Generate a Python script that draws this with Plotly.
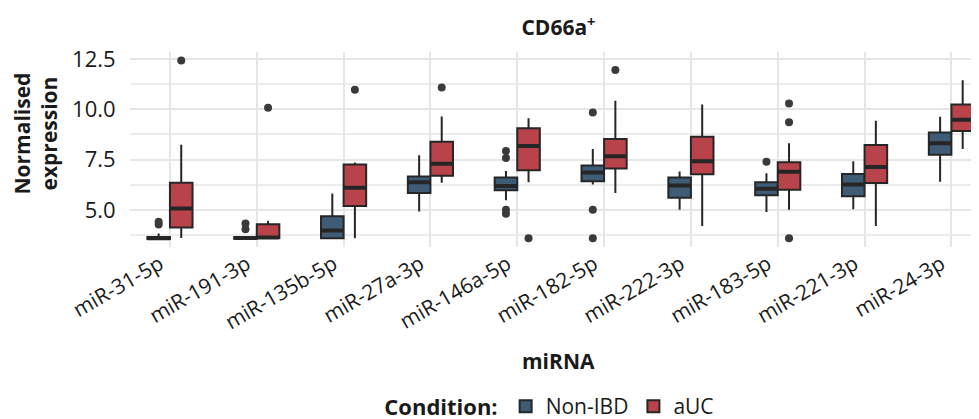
import plotly.graph_objects as go

categories = ["miR-31-5p", "miR-191-3p", "miR-135b-5p", "miR-27a-3p", "miR-146a-5p",
              "miR-182-5p", "miR-222-3p", "miR-183-5p", "miR-221-3p", "miR-24-3p"]

# Non-IBD
nonibd_low = [3.55, 3.55, 3.58, 4.92, 5.48, 6.26, 5.00, 4.89, 5.03, 6.40]
nonibd_q1 = [3.55, 3.56, 3.58, 5.84, 5.97, 6.42, 5.60, 5.73, 5.68, 7.74]
nonibd_med = [3.58, 3.60, 3.97, 6.37, 6.18, 6.85, 6.21, 6.05, 6.26, 8.31]
nonibd_q3 = [3.65, 3.65, 4.68, 6.66, 6.61, 7.21, 6.61, 6.37, 6.78, 8.84]
nonibd_up = [3.82, 3.68, 5.81, 7.71, 6.93, 8.03, 6.90, 6.82, 7.42, 9.63]
nonibd_out = [[4.41, 4.27], [4.32, 4.03], [], [], [7.93, 7.58, 5.00, 4.81],
              [9.84, 5.00, 3.58], [], [7.39], [], []]

# aUC
auc_low = [3.60, 3.58, 3.58, 6.34, 6.37, 5.84, 4.20, 5.00, 4.20, 8.03]
auc_q1 = [4.12, 3.60, 5.19, 6.69, 6.97, 7.06, 6.77, 6.00, 6.33, 8.92]
auc_med = [5.06, 3.62, 6.10, 7.29, 8.18, 7.66, 7.42, 6.89, 7.13, 9.48]
auc_q3 = [6.34, 4.28, 7.26, 8.39, 9.06, 8.52, 8.63, 7.37, 8.23, 10.24]
auc_up = [8.24, 4.45, 7.35, 9.64, 9.55, 10.43, 10.24, 8.31, 9.43, 11.45]
auc_out = [[12.43], [10.08], [10.97], [11.08], [3.58], [11.96], [],
           [10.29, 9.35, 3.58], [], []]

y_ticks = [5.0, 7.5, 10.0, 12.5]

FONT = "Open Sans"
TXT = "#1a1a1a"
EDGE = "#262626"
series = [
    ("Non-IBD", "#3f5c76", nonibd_low, nonibd_q1, nonibd_med, nonibd_q3, nonibd_up, nonibd_out, "a"),
    ("aUC", "#b8434b", auc_low, auc_q1, auc_med, auc_q3, auc_up, auc_out, "b"),
]

fig = go.Figure()
for name, color, lo, q1, med, q3, up, out, grp in series:
    fig.add_trace(go.Box(
        name=name, x=categories, q1=q1, median=med, q3=q3,
        lowerfence=lo, upperfence=up, y=out,
        boxpoints="all", jitter=0, pointpos=0,
        fillcolor=color, line=dict(color=EDGE, width=2),
        marker=dict(color="#3a3a3a", size=8, line=dict(width=0)),
        offsetgroup=grp, whiskerwidth=0, hoverinfo="skip",
    ))
    # thicker median line overlay
    fig.add_trace(go.Box(
        name=name, x=categories, q1=med, median=med, q3=med,
        lowerfence=med, upperfence=med,
        boxpoints=False, fillcolor="rgba(0,0,0,0)",
        line=dict(color=EDGE, width=4),
        offsetgroup=grp, whiskerwidth=0, showlegend=False, hoverinfo="skip",
    ))

fig.update_layout(
    width=979, height=419,
    margin=dict(l=122, r=0, t=44, b=174),
    paper_bgcolor="white", plot_bgcolor="white",
    boxmode="group", boxgap=0.48, boxgroupgap=0,
    font=dict(family=FONT, size=20, color=TXT),
    title=dict(text="<b>CD66a<sup>+</sup></b>", x=0.5, xref="paper", xanchor="center",
               y=1 - 20 / 419, yref="container", yanchor="middle",
               font=dict(family=FONT, size=21, color=TXT)),
    showlegend=True,
    legend=dict(orientation="h", x=0.491, xanchor="center", y=-(410 - 245) / 201,
                yanchor="middle",
                title=dict(text="<b>Condition:</b>", side="left",
                           font=dict(family=FONT, size=22, color=TXT)),
                font=dict(family=FONT, size=21, color=TXT),
                itemwidth=30, tracegroupgap=0),
)

fig.update_xaxes(
    type="category", categoryorder="array", categoryarray=categories,
    range=[-0.46, 9.41], tickangle=-30, ticklabelshift=-10,
    showgrid=True, gridcolor="#e6e6e6", gridwidth=2,
    showline=False, zeroline=False, ticks="",
    tickfont=dict(family=FONT, size=21, color=TXT),
)
fig.update_yaxes(
    range=[3.15, 12.85], tickvals=y_ticks, tickformat=".1f",
    showgrid=True, gridcolor="#e6e6e6", gridwidth=2,
    minor=dict(dtick=1.25, tick0=0, showgrid=True, gridcolor="#ececec", gridwidth=1.5),
    showline=False, zeroline=False, ticks="outside", ticklen=9,
    tickcolor="rgba(0,0,0,0)",
    tickfont=dict(family=FONT, size=22, color=TXT),
)

fig.add_annotation(text="<b>miRNA</b>", xref="paper", yref="paper", x=0.5,
                   y=-(362 - 245) / 201, xanchor="center", yanchor="middle",
                   showarrow=False, font=dict(family=FONT, size=21, color=TXT))
fig.add_annotation(text="<b>Normalised<br>expression</b>", xref="paper", yref="paper",
                   x=-(122 - 27) / 857, y=(245 - 128) / 201, xanchor="center", yanchor="middle",
                   textangle=-90, showarrow=False,
                   font=dict(family=FONT, size=21, color=TXT))

fig.write_html("out.html")
